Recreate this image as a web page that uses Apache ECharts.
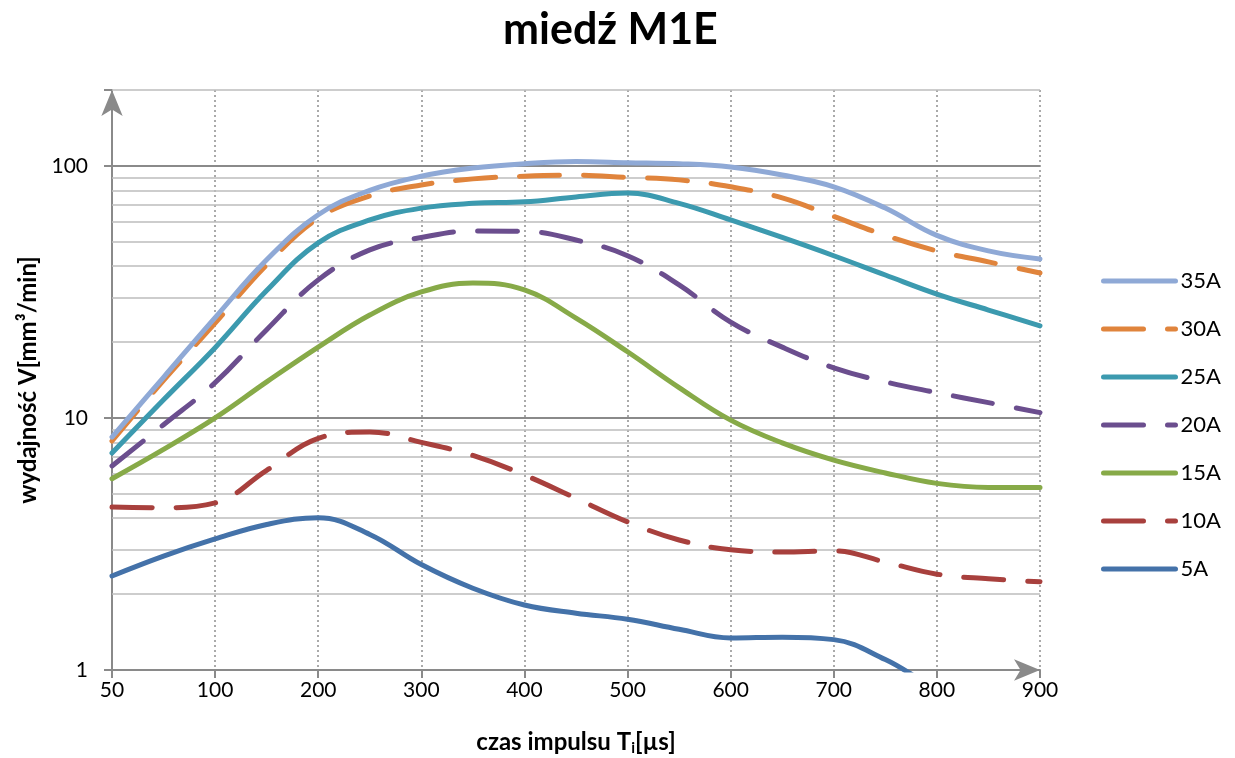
<!DOCTYPE html>
<html><head><meta charset="utf-8">
<script src="https://cdn.jsdelivr.net/npm/echarts@6/dist/echarts.min.js"></script>
<style>html,body{margin:0;padding:0;background:#fff}#c{width:1235px;height:758px}</style>
</head><body><div id="c"></div>
<script>
// x categories (labels shown at every other one: 50,100,200,...,900)
const categories = ['50','75','100','150','200','250','300','350','400','450','500','550','600','650','700','750','800','850','900'];
const s35A = [8.4, 14.5, 25, 42.4, 64, 80, 91, 98, 102, 104, 103, 102, 99, 92, 82.6, 68, 53, 46, 42.7];
const s30A = [8.1, 14.1, 23.8, 40.5, 62, 76, 84, 88.8, 91, 91.8, 90, 88, 82.6, 74.6, 63, 53, 46, 41.6, 37.6];
const s25A = [7.26, 11.8, 19, 32, 49.5, 61, 68, 71, 72, 75.3, 78, 71, 61, 52, 44, 36.9, 31, 26.8, 23.2];
const s20A = [6.45, 9.4, 13.8, 22.4, 35.3, 46.4, 52, 55.2, 55, 50.8, 44, 33.7, 24, 19.1, 15.8, 13.9, 12.6, 11.5, 10.5];
const s15A = [5.74, 7.5, 10, 13.9, 19.1, 25.6, 31.6, 34.3, 32.2, 24.9, 18.3, 13.2, 9.8, 7.96, 6.8, 6.05, 5.5, 5.3, 5.3];
const s10A = [4.43, 4.4, 4.6, 6.2, 8.3, 8.8, 8.0, 7.1, 5.94, 4.8, 3.87, 3.28, 3.0, 2.94, 2.97, 2.68, 2.4, 2.3, 2.24];
const s5A  = [2.36, 2.83, 3.31, 3.78, 4.02, 3.45, 2.62, 2.11, 1.81, 1.68, 1.59, 1.45, 1.34, 1.35, 1.32, 1.1, 0.85, 0.75, 0.7];
const majorLines = [10, 100];
const minorLines = [2,3,4,5,6,7,8,9,20,30,40,50,60,70,80,90,200];
const yLabels = [1, 10, 100];

const FONT = 'Lato';
const dash = [40, 24];
function mk(name, data, color, dashed) {
  return {
    name, type: 'line', data, smooth: 0.4, showSymbol: false, symbol: 'none', z: 5,
    lineStyle: { color, width: 5, type: dashed ? dash : 'solid', cap: 'round', join: 'round' },
    itemStyle: { color }
  };
}
const chart = echarts.init(document.getElementById('c'), null, { renderer: 'canvas' });
chart.setOption({
  backgroundColor: '#fff',
  animation: false,
  title: { text: 'miedź M1E', left: 498, top: 4,
    textStyle: { fontFamily: FONT, fontSize: 43, fontWeight: 'bold', color: '#000' } },
  grid: { left: 112, right: 195, top: 90, bottom: 88, outerBoundsMode: 'none', containLabel: false },
  legend: {
    orient: 'vertical', left: 1101, top: 268, padding: 0, itemWidth: 72, itemHeight: 14, itemGap: 22,
    data: ['35A','30A','25A','20A','15A','10A','5A'],
    itemStyle: { opacity: 0 },
    lineStyle: { width: 5 },
    textStyle: { fontFamily: FONT, fontSize: 22, color: '#000', lineHeight: 26 }
  },
  xAxis: {
    type: 'category', data: categories, boundaryGap: false,
    name: '{b|czas impulsu T}{s|i}{b|[µs]}', nameLocation: 'middle', nameGap: 59,
    nameTextStyle: { rich: {
      b: { fontFamily: FONT, fontSize: 24, fontWeight: 'bold', color: '#000' },
      s: { fontFamily: FONT, fontSize: 15, fontWeight: 'bold', color: '#000', padding: [12, 0, 0, 0] }
    } },
    axisLine: { lineStyle: { color: '#8a8a8a', width: 2 }, symbol: ['none', 'arrow'], symbolSize: [16, 26] },
    axisTick: { show: true, interval: 1, length: 8, inside: false, lineStyle: { color: '#8a8a8a', width: 2 } },
    axisLabel: { interval: 1, fontFamily: FONT, fontSize: 21, color: '#000', margin: 10 },
    splitLine: { show: true, interval: 1, lineStyle: { color: '#8f8f8f', width: 1.5, type: [2, 3] } }
  },
  yAxis: {
    type: 'log', logBase: 10, min: 1, max: 200,
    name: 'wydajność V[mm³/min]', nameLocation: 'middle', nameGap: 72, nameRotate: 90,
    nameTextStyle: { fontFamily: FONT, fontSize: 24, fontWeight: 'bold', color: '#000' },
    axisLine: { show: true, lineStyle: { color: '#8a8a8a', width: 2 }, symbol: ['none', 'arrow'], symbolSize: [16, 26] },
    axisTick: { show: true, length: 8, lineStyle: { color: '#8a8a8a', width: 2 } },
    axisLabel: { fontFamily: FONT, fontSize: 21, color: '#000', margin: 24,
      formatter: v => (yLabels.indexOf(Math.round(v)) >= 0 ? String(Math.round(v)) : '') },
    splitLine: { show: false }
  },
  series: [
    { name: 'grid', type: 'line', data: [], z: 1, silent: true,
      markLine: { silent: true, symbol: ['none','none'], label: { show: false }, animation: false,
        data: minorLines.map(v => ({ yAxis: v, lineStyle: { color: '#bcbcbc', width: 1.6, type: 'solid' } }))
          .concat(majorLines.map(v => ({ yAxis: v, lineStyle: { color: '#8a8a8a', width: 2, type: 'solid' } }))) } },
    mk('5A', s5A, '#4472A9', false),
    mk('10A', s10A, '#A8403D', true),
    mk('15A', s15A, '#87AA48', false),
    mk('20A', s20A, '#6B4E8E', true),
    mk('25A', s25A, '#3C9AAF', false),
    mk('30A', s30A, '#E0843C', true),
    mk('35A', s35A, '#8FA9D6', false)
  ]
});
</script></body></html>
